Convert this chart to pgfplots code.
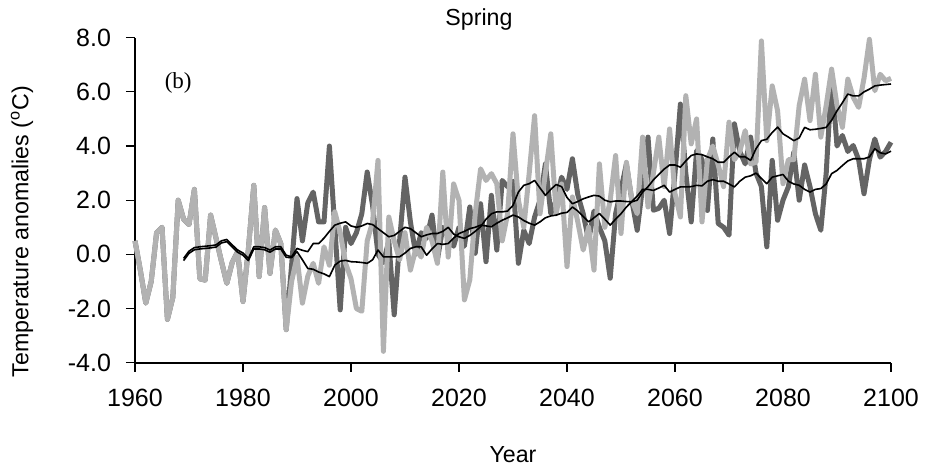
\documentclass[border=0pt]{standalone}
\usepackage{pgfplots}
\usepackage{pgfplotstable}
\pgfplotsset{compat=1.18}
\usepackage{fontspec}
\setmainfont{Liberation Sans}
\newfontfamily\tnr{Liberation Serif}

\definecolor{darkg}{RGB}{100,100,100}
\definecolor{lightg}{RGB}{178,178,178}

% annual anomalies: two model runs (identical up to 1988)
\pgfplotstableread{
year dark light
1960 0.5 0.5
1961 -0.6 -0.6
1962 -1.8 -1.8
1963 -1.0 -1.0
1964 0.8 0.8
1965 1.0 1.0
1966 -2.4 -2.4
1967 -1.6 -1.6
1968 2.0 2.0
1969 1.3 1.3
1970 1.1 1.1
1971 2.4 2.4
1972 -0.9 -0.9
1973 -0.95 -0.95
1974 1.45 1.45
1975 0.6 0.6
1976 -0.25 -0.25
1977 -1.07 -1.07
1978 -0.3 -0.3
1979 0.1 0.1
1980 -1.74 -1.74
1981 0.2 0.2
1982 2.55 2.55
1983 -0.82 -0.82
1984 1.73 1.73
1985 -0.7 -0.7
1986 0.9 0.9
1987 0.4 0.4
1988 -2.78 -2.78
1989 -0.4 -1.0
1990 2.06 -0.1
1991 0.5 -1.8
1992 1.9 -0.8
1993 2.3 -0.33
1994 1.2 -1.07
1995 1.2 0.28
1996 4.0 -0.4
1997 1.0 1.57
1998 -2.05 0.8
1999 1.0 -0.33
2000 0.4 -0.9
2001 0.8 -2.0
2002 1.5 -2.1
2003 3.04 0.5
2004 1.8 1.2
2005 0.0 3.47
2006 -0.3 -3.58
2007 0.5 1.38
2008 -2.23 0.5
2009 0.5 -0.2
2010 2.85 0.8
2011 1.2 -0.58
2012 0.0 0.2
2013 0.8 -0.1
2014 0.6 1.0
2015 1.45 0.5
2016 -0.2 -0.33
2017 1.0 3.04
2018 0.65 -0.1
2019 0.3 2.6
2020 1.0 2.0
2021 0.3 -1.68
2022 1.75 -0.94
2023 0.04 1.5
2024 1.87 3.16
2025 -0.27 2.73
2026 2.18 2.98
2027 0.16 2.61
2028 2.73 0.5
2029 2.5 1.5
2030 2.7 4.45
2031 -0.33 2.0
2032 0.89 1.0
2033 0.4 3.0
2034 1.38 5.12
2035 2.0 1.5
2036 3.34 3.0
2037 1.5 4.45
2038 2.0 1.5
2039 2.85 2.6
2040 2.4 -0.45
2041 3.53 2.12
2042 2.2 1.2
2043 1.5 0.16
2044 0.52 1.0
2045 1.6 -0.58
2046 1.0 3.34
2047 0.5 1.0
2048 -0.88 2.0
2049 1.5 3.65
2050 2.4 0.77
2051 3.34 3.4
2052 2.0 2.0
2053 0.89 1.5
2054 2.5 4.33
2055 4.33 1.75
2056 1.63 3.0
2057 1.7 4.33
2058 2.0 2.5
2059 0.77 4.63
2060 3.0 2.24
2061 5.55 1.38
2062 3.0 5.86
2063 1.2 4.08
2064 3.83 5.0
2065 3.5 1.2
2066 1.62 3.5
2067 4.26 4.0
2068 1.14 3.3
2069 1.0 2.5
2070 0.71 4.88
2071 4.82 3.5
2072 3.8 3.8
2073 3.34 4.57
2074 4.33 3.34
2075 3.0 3.4
2076 2.5 7.88
2077 0.28 4.2
2078 3.47 6.22
2079 1.26 5.3
2080 2.0 2.61
2081 2.5 3.5
2082 3.77 3.5
2083 2.0 5.5
2084 3.3 6.47
2085 2.5 4.94
2086 1.5 6.65
2087 0.89 4.33
2088 3.0 5.5
2089 6.53 6.84
2090 4.0 5.5
2091 4.39 4.69
2092 3.8 6.47
2093 4.02 5.8
2094 3.5 5.43
2095 2.24 6.5
2096 3.5 7.94
2097 4.26 6.04
2098 3.59 6.65
2099 3.8 6.41
2100 4.14 6.5
}\annual

% 10-year running means
\pgfplotstableread{
year a b
1969 -0.15 -0.23
1970 0.12 0.04
1971 0.25 0.17
1972 0.28 0.2
1973 0.3 0.22
1974 0.32 0.24
1975 0.35 0.27
1976 0.5 0.42
1977 0.55 0.47
1978 0.35 0.27
1979 0.16 0.08
1980 0.05 -0.03
1981 -0.15 -0.23
1982 0.28 0.2
1983 0.28 0.2
1984 0.25 0.17
1985 0.16 0.08
1986 0.28 0.2
1987 0.28 0.2
1988 -0.03 -0.11
1989 -0.09 -0.12
1990 0.22 0.1
1991 0.15 -0.2
1992 0.1 -0.52
1993 0.4 -0.55
1994 0.4 -0.65
1995 0.6 -0.72
1996 0.85 -0.82
1997 1.08 -0.4
1998 1.15 -0.25
1999 1.2 -0.22
2000 1.05 -0.27
2001 1.0 -0.28
2002 1.05 -0.3
2003 1.14 -0.33
2004 1.1 -0.2
2005 0.95 0.16
2006 0.8 -0.09
2007 0.65 -0.09
2008 0.7 -0.09
2009 0.85 -0.09
2010 1.0 0.05
2011 0.95 0.22
2012 0.8 0.28
2013 0.65 0.28
2014 0.72 -0.03
2015 0.77 0.2
2016 0.77 0.4
2017 0.85 0.37
2018 1.0 0.4
2019 0.75 0.6
2020 0.65 0.77
2021 0.59 0.85
2022 0.7 0.95
2023 0.85 1.0
2024 1.02 1.08
2025 1.3 1.05
2026 1.5 1.02
2027 1.57 1.15
2028 1.57 1.26
2029 1.6 1.35
2030 1.81 1.45
2031 2.3 1.38
2032 2.55 1.25
2033 2.61 1.15
2034 2.73 1.08
2035 2.45 1.2
2036 2.18 1.35
2037 2.4 1.42
2038 2.58 1.45
2039 2.5 1.52
2040 2.1 1.55
2041 1.87 1.75
2042 1.95 1.6
2043 2.05 1.4
2044 2.12 1.2
2045 2.18 1.35
2046 2.15 1.51
2047 2.0 1.3
2048 1.94 1.08
2049 1.97 1.3
2050 1.97 1.5
2051 1.95 1.75
2052 1.94 1.95
2053 2.0 2.15
2054 2.3 2.4
2055 2.5 2.4
2056 2.75 2.36
2057 2.95 2.45
2058 3.15 2.55
2059 3.3 2.3
2060 3.3 2.4
2061 3.22 2.49
2062 3.45 2.49
2063 3.65 2.5
2064 3.71 2.55
2065 3.68 2.53
2066 3.6 2.7
2067 3.53 2.76
2068 3.4 2.7
2069 3.4 2.7
2070 3.6 2.6
2071 3.77 2.49
2072 3.6 2.7
2073 3.6 2.85
2074 3.47 2.9
2075 3.9 3.0
2076 4.2 2.8
2077 4.25 2.61
2078 4.5 2.85
2079 4.7 2.9
2080 4.45 2.95
2081 4.33 2.7
2082 4.2 2.6
2083 4.3 2.55
2084 4.69 2.4
2085 4.6 2.3
2086 4.62 2.4
2087 4.65 2.43
2088 4.69 2.6
2089 4.95 2.98
2090 5.3 3.1
2091 5.6 3.28
2092 5.92 3.45
2093 5.85 3.53
2094 5.85 3.53
2095 6.0 3.53
2096 6.1 3.6
2097 6.22 3.9
2098 6.25 3.75
2099 6.27 3.71
2100 6.29 3.81
}\runmean

\begin{document}
\begin{tikzpicture}
\begin{axis}[
    width=378pt, height=162.5pt, scale only axis,
    xmin=1960, xmax=2100, ymin=-4, ymax=8,
    axis x line=bottom, axis y line=left,
    axis line style={-, black, line width=1pt},
    tick align=outside, major tick length=4.5pt,
    tick style={black, line width=0.6pt},
    xtick={1960,1980,2000,2020,2040,2060,2080,2100},
    xticklabels={1960,1980,2000,2020,2040,2060,2080,2100},
    ytick={-4,-2,0,2,4,6,8},
    yticklabels={-4.0,-2.0,0.0,2.0,4.0,6.0,8.0},
    ticklabel style={font=\fontsize{12.5}{14}\selectfont},
    xticklabel style={yshift=-5pt},
    yticklabel style={xshift=-4pt},
    label style={font=\fontsize{11.6}{13}\selectfont},
    xlabel={Year},
    xlabel style={at={(axis description cs:0.5,-0.283)}, anchor=center},
    ylabel={Temperature anomalies (\textsuperscript{o}C)},
    ylabel style={at={(axis description cs:-0.1495,0.403)}, anchor=center},
    clip=false,
]
\addplot[darkg, line width=2.5pt, line join=round] table[x=year, y=dark] {\annual};
\addplot[lightg, line width=2.5pt, line join=round] table[x=year, y=light] {\annual};
\addplot[black, line width=0.8pt, line join=round] table[x=year, y=a] {\runmean};
\addplot[black, line width=0.8pt, line join=round] table[x=year, y=b] {\runmean};
\node[font=\tnr\fontsize{11.5}{13}\selectfont] at (axis cs:1968,6.33) {(b)};
\node[font=\fontsize{11.6}{13}\selectfont] at (rel axis cs:0.455,1.0575) {Spring};
\coordinate (sw) at (rel axis cs:0,0);
\coordinate (ne) at (rel axis cs:1,1);
\end{axis}
\pgfresetboundingbox
\path ([xshift=-67.5pt,yshift=-53.15pt]sw) rectangle ([xshift=19.5pt,yshift=18.85pt]ne);
\end{tikzpicture}
\end{document}
